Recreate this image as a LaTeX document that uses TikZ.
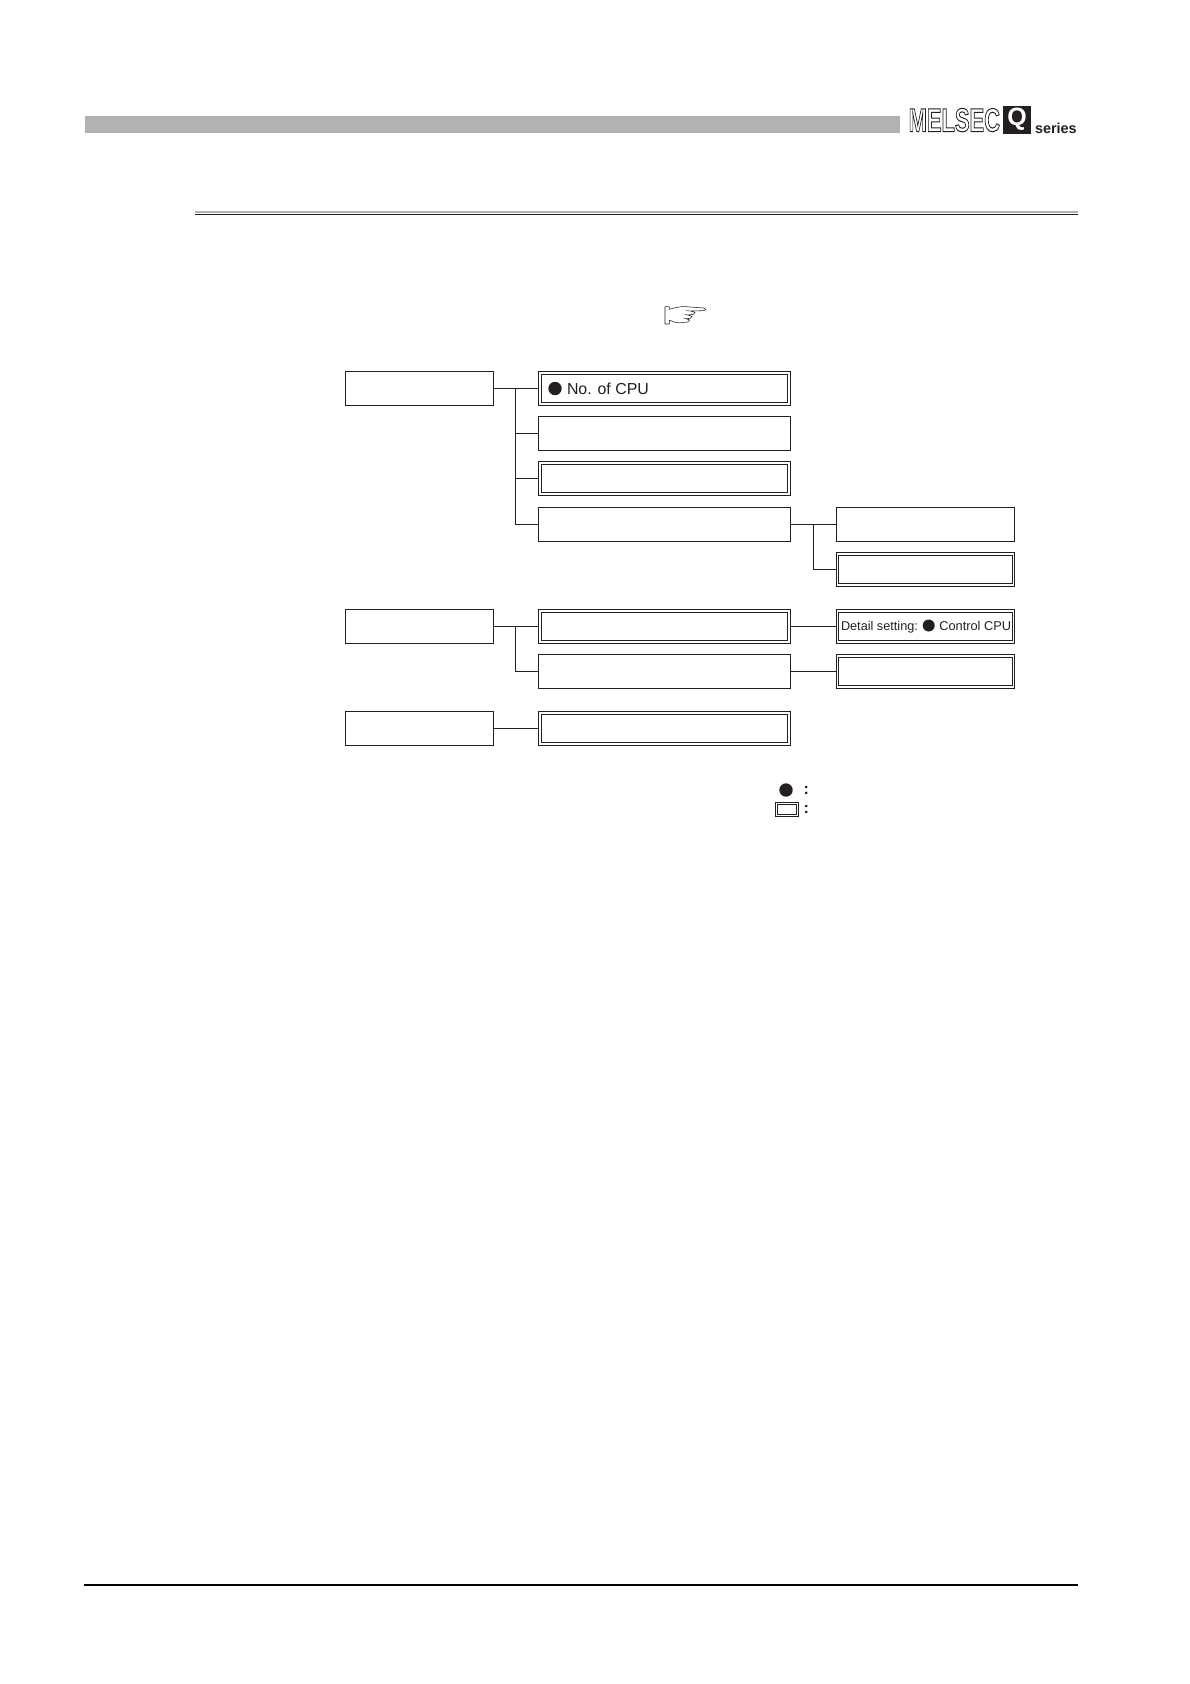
\documentclass[tikz,border=0pt]{standalone}
\usepackage{fontspec}
\setmainfont{Liberation Sans}
\definecolor{ink}{HTML}{231F20}
\definecolor{barg}{HTML}{B2B2B2}
\definecolor{ruleg}{HTML}{B2B2B2}
\tikzset{
  plainbox/.style={draw=ink,line width=1pt,inner sep=0pt,outer sep=0pt,minimum height=34pt},
  lbox/.style={plainbox,minimum width=148pt},
  mbox/.style={plainbox,minimum width=252.4pt},
  rbox/.style={plainbox,minimum width=178pt},
  conn/.style={draw=ink,line width=1pt},
  inner/.style={draw=ink,line width=1pt},
  dot/.style={circle,fill=ink,inner sep=0pt,outer sep=0pt},
  lab/.style={text=ink,inner sep=0pt,outer sep=0pt,anchor=base west},
}
\begin{document}
\begin{tikzpicture}[x=1pt,y=-1pt]
\useasboundingbox (0,0) rectangle (1190,1684);
% header
\fill[barg] (85,116) rectangle (899.5,133);
\node[text=ink,inner sep=0pt,anchor=base west,xscale=0.665,transform shape] (melsec) at (908.5,131.5)
  {\fontsize{33}{33}\selectfont\bfseries\special{pdf:code 1 Tr 1 w}MELSEC\special{pdf:code 0 Tr}};
\fill[ink] (1003,106) rectangle (1031,134);
\node[text=white,inner sep=0pt,anchor=center] (qmark) at (1017,119.5) {\fontsize{25}{25}\selectfont\bfseries Q};
\node[lab] (series) at (1035,133) {\fontsize{14.4}{14.4}\selectfont\bfseries series};
% rules
\fill[ruleg] (194.7,210.7) rectangle (1077.7,213);
\fill[ink] (194.7,214) rectangle (1077.7,215.2);
\fill[black] (84,1584) rectangle (1078,1586);
% hand
\begin{scope}[shift={(650,295)},x=0.3333pt,y=-0.3333pt]
\draw[ink,line width=0.55pt,line join=round,fill=white]
  (45,35) -- (58,35) -- (58,43) .. controls (75,38) and (90,34) .. (108,35)
  -- (160,39) .. controls (169,41) and (169,46) .. (160,47) -- (122,48)
  -- (135,52) -- (130,58) -- (113,60) -- (126,64) -- (121,70) -- (108,71)
  -- (119,75) -- (113,81) -- (103,82) .. controls (85,86) and (70,82) .. (58,75)
  -- (58,87) -- (45,87) -- cycle;
\draw[ink,line width=0.45pt] (108,47) -- (122,48) (104,58) -- (113,60) (100,69) -- (108,71);
\end{scope}
% boxes
\node[lbox] (L1) at (419.3,388.3) {};
\node[mbox] (M1) at (664.5,388.3) {};
\node[mbox] (M2) at (664.5,433.3) {};
\node[mbox] (M3) at (664.5,478.3) {};
\node[mbox] (M4) at (664.5,524.3) {};
\node[rbox] (R1) at (925.3,524.3) {};
\node[rbox] (R2) at (925.3,569.3) {};
\node[lbox] (L2) at (419.3,626.3) {};
\node[mbox] (M5) at (664.5,626.3) {};
\node[mbox] (M6) at (664.5,671.3) {};
\node[rbox] (R3) at (925.3,626.3) {};
\node[rbox] (R4) at (925.3,671.3) {};
\node[lbox] (L3) at (419.3,728.3) {};
\node[mbox] (M7) at (664.5,728.3) {};
% inner frames of the double boxes
\foreach \n/\ix in {M1/3,M3/3,M5/3,M7/3,R2/2,R3/2,R4/2}{
  \draw[inner] ([shift={(\ix,3)}]\n.north west) rectangle ([shift={(-\ix,-3)}]\n.south east);
}
% junctions
\coordinate (j1) at (515.3,388.3);
\coordinate (j2) at (813.3,524.3);
\coordinate (j3) at (515.3,626.3);
% connectors
\draw[conn] (L1.east) -- (M1.west);
\draw[conn] (j1) |- (M2.west);
\draw[conn] (j1) |- (M3.west);
\draw[conn] (j1) |- (M4.west);
\draw[conn] (M4.east) -- (R1.west);
\draw[conn] (j2) |- (R2.west);
\draw[conn] (L2.east) -- (M5.west);
\draw[conn] (j3) |- (M6.west);
\draw[conn] (M5.east) -- (R3.west);
\draw[conn] (M6.east) -- (R4.west);
\draw[conn] (L3.east) -- (M7.west);
% labels
\node[dot,minimum size=13.4pt] (b1) at (555,388.5) {};
\node[lab] (t1) at (567,394) {\fontsize{15.9}{15.9}\selectfont No. of CPU};
\node[lab] (t2) at (841,630) {\fontsize{12.7}{12.7}\selectfont Detail setting:};
\node[dot,minimum size=12pt] (b2) at (928.7,625.5) {};
\node[lab] (t3) at (939.3,630) {\fontsize{12.8}{12.8}\selectfont Control CPU};
% legend
\node[dot,minimum size=13.4pt] (b3) at (786,790) {};
\node[lab] (c1) at (803.5,794.8) {\fontsize{16}{16}\selectfont\bfseries :};
\node[plainbox,minimum width=23.4pt,minimum height=14.4pt] (lg) at (787,809.5) {};
\draw[inner,line width=0.8pt] ([shift={(2,2)}]lg.north west) rectangle ([shift={(-2,-2)}]lg.south east);
\node[lab] (c2) at (803.5,813.8) {\fontsize{16}{16}\selectfont\bfseries :};
\end{tikzpicture}
\end{document}
